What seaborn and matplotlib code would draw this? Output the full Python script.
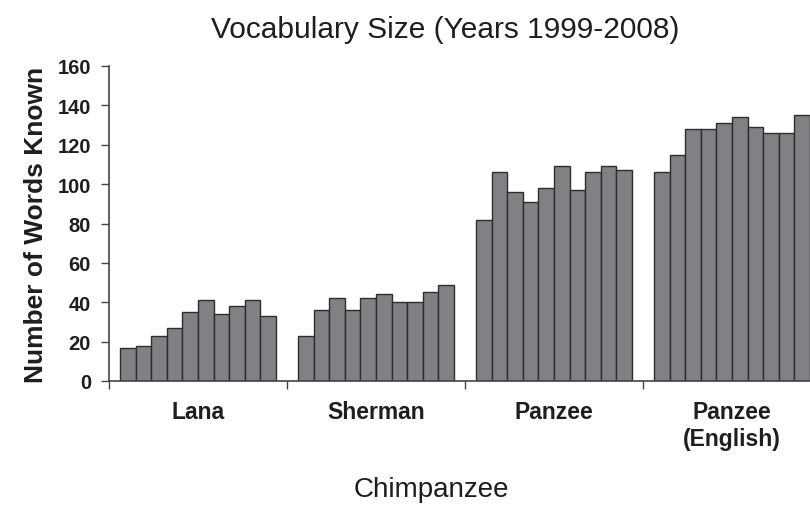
import pandas as pd
import matplotlib.pyplot as plt
import seaborn as sns

# Vocabulary size per chimpanzee, one bar per year 1999-2008
years = list(range(1999, 2009))
chimps = ['Lana', 'Sherman', 'Panzee', 'Panzee\n(English)']
lana = [17, 18, 23, 27, 35, 41, 34, 38, 41, 33]
sherman = [23, 36, 42, 36, 42, 44, 40, 40, 45, 49]
panzee = [82, 106, 96, 91, 98, 109, 97, 106, 109, 107]
panzee_english = [106, 115, 128, 128, 131, 134, 129, 126, 126, 135]

rows = []
for name, vals in zip(chimps, [lana, sherman, panzee, panzee_english]):
    for yr, v in zip(years, vals):
        rows.append({'Chimpanzee': name, 'Year': yr, 'Words': v})
df = pd.DataFrame(rows)

sns.set_style('white')
plt.rcParams['font.family'] = ['Liberation Sans', 'DejaVu Sans']
plt.rcParams['text.color'] = '#1e1e1e'

fig = plt.figure(figsize=(8.1, 5.06), dpi=100)
ax = fig.add_axes([109 / 810, 124 / 506, 712 / 810, 315 / 506])

sns.barplot(data=df, x='Chimpanzee', y='Words', hue='Year',
            palette=['#808085'] * len(years), width=0.873,
            edgecolor='#2e2e2e', linewidth=1.0, saturation=1,
            legend=False, ax=ax)

ax.set_xlim(-0.5, 3.5)
ax.set_ylim(0, 160)
ax.set_yticks(range(0, 161, 20))
ax.set_yticklabels([str(v) for v in range(0, 161, 20)], fontsize=14.5,
                   fontweight='bold', color='#1e1e1e')

# boundary ticks between groups, labels at group centres
ax.set_xticks([-0.5, 0.5, 1.5, 2.5, 3.5])
ax.set_xticklabels([''] * 5)
ax.set_xticks([0, 1, 2, 3], minor=True)
ax.set_xticklabels(chimps, minor=True, fontsize=16.5, fontweight='bold',
                   linespacing=1.2, color='#1e1e1e')
ax.tick_params(axis='x', which='minor', length=0, pad=14)
ax.tick_params(axis='x', which='major', direction='out', length=6, width=1, color='#444444', bottom=True)
ax.tick_params(axis='y', direction='out', length=6, width=1, color='#444444', left=True, pad=7)

for s in ['top', 'right']:
    ax.spines[s].set_visible(False)
for s in ['left', 'bottom']:
    ax.spines[s].set_color('#444444')
    ax.spines[s].set_linewidth(1.2)

ax.set_xlabel('')
ax.set_ylabel('Number of Words Known', fontsize=19, fontweight='bold',
              labelpad=7, color='#1e1e1e')
fig.text(445 / 810, 1 - 30 / 506, 'Vocabulary Size (Years 1999-2008)',
         ha='center', va='center', fontsize=21.5)
fig.text(431 / 810, 1 - 490 / 506, 'Chimpanzee', ha='center', va='center', fontsize=20)

fig.savefig('out.png', dpi=100)
